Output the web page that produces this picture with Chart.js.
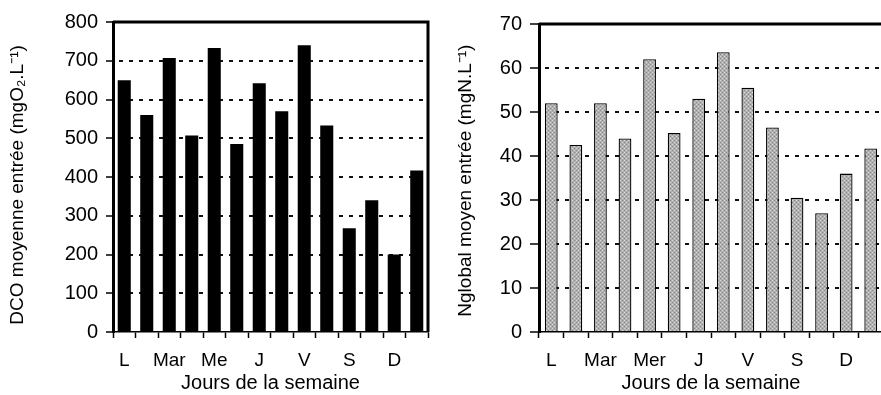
<!DOCTYPE html>
<html><head><meta charset="utf-8">
<script src="https://cdn.jsdelivr.net/npm/chart.js@4.4.1/dist/chart.umd.min.js"></script>
<style>
html,body{margin:0;padding:0;background:#fff;overflow:hidden;width:881px;height:395px;position:relative;}
#w1{position:absolute;left:0;top:0;width:440px;height:395px;}
#w2{position:absolute;left:440px;top:0;width:460px;height:395px;}
</style></head><body>
<div id="w1"><canvas id="c1"></canvas></div>
<div id="w2"><canvas id="c2"></canvas></div>
<script>
// ---- data ----
const categoriesLeft  = ['L','','Mar','','Me','','J','','V','','S','','D',''];
const categoriesRight = ['L','','Mar','','Mer','','J','','V','','S','','D',''];
const dcoValues = [650, 560, 707, 507, 733, 485, 642, 570, 740, 533, 268, 340, 200, 417];
const nglobalValues = [52, 42.5, 52, 44, 62, 45.2, 53, 63.6, 55.5, 46.5, 30.5, 27, 36, 41.7];
const dcoAxis = {min: 0, max: 800, step: 100};
const nglobalAxis = {min: 0, max: 70, step: 10};
const xTitle = 'Jours de la semaine';
const dcoTitle = 'DCO moyenne entrée (mgO\u2082.L\u207B\u00B9)\u00A0\u00A0\u00A0';
const nglobalTitle = 'Nglobal moyen entrée (mgN.L\u207B\u00B9)\u00A0';

const FONT = 'Liberation Sans, Arial, Helvetica, sans-serif';

// gray textured fill for right chart
function makePattern() {
  const c = document.createElement('canvas');
  c.width = 4; c.height = 4;
  const g = c.getContext('2d');
  g.fillStyle = '#b0b0b0'; g.fillRect(0, 0, 4, 4);
  g.fillStyle = '#d8d8d8'; g.fillRect(0, 0, 1, 1); g.fillRect(2, 2, 1, 1);
  g.fillStyle = '#8a8a8a'; g.fillRect(2, 0, 1, 1); g.fillRect(0, 2, 1, 1);
  return g.createPattern(c, 'repeat');
}

const framePlugin = {
  id: 'frame',
  afterDraw(chart) {
    const {ctx, chartArea: a} = chart;
    ctx.save();
    ctx.strokeStyle = '#000';
    ctx.lineWidth = 3;
    ctx.beginPath();
    ctx.moveTo(a.left, a.top);
    ctx.lineTo(a.right, a.top);
    ctx.lineTo(a.right, a.bottom);
    ctx.stroke();
    ctx.restore();
  }
};

function build(id, labels, values, axis, yTitle, fill, border, barPct, geo) {
  return new Chart(document.getElementById(id), {
    type: 'bar',
    data: {
      labels: labels,
      datasets: [{
        data: values,
        backgroundColor: fill,
        borderColor: border,
        borderWidth: border ? 1.3 : 0,
        borderSkipped: 'bottom',
        barPercentage: barPct,
        categoryPercentage: 1
      }]
    },
    options: {
      responsive: true,
      maintainAspectRatio: false,
      animation: false,
      events: [],
      layout: {padding: {left: 0, top: geo.top, right: geo.right, bottom: 0}},
      plugins: {legend: {display: false}, tooltip: {enabled: false}},
      scales: {
        x: {
          offset: true,
          grid: {offset: true, drawOnChartArea: false, drawTicks: true, tickLength: 6, tickWidth: 1.5, tickColor: '#000', color: '#000'},
          border: {display: true, color: '#000', width: 1.5},
          ticks: {color: '#000', font: {family: FONT, size: 19}, padding: 11, autoSkip: false, maxRotation: 0, minRotation: 0},
          title: {display: true, text: xTitle, color: '#000', font: {family: FONT, size: 20}, padding: {top: 0, bottom: 0}},
          afterFit(s) { s.height = 395 - geo.bottom; }
        },
        y: {
          min: axis.min, max: axis.max,
          ticks: {stepSize: axis.step, color: '#000', font: {family: FONT, size: 20}, padding: geo.tickPad},
          grid: {
            drawOnChartArea: true,
            lineWidth: 2,
            color: (c) => (c.tick && (c.tick.value === axis.min || c.tick.value === axis.max)) ? 'rgba(0,0,0,0)' : '#111',
            tickLength: geo.tickLen, tickWidth: 1.5, tickColor: '#000'
          },
          border: {display: true, color: '#000', width: 3, dash: [4, 6], dashOffset: -4},
          title: {display: true, text: yTitle, color: '#000', font: {family: FONT, size: 19}, padding: {top: geo.titlePad, bottom: 0}},
          afterFit(s) { s.width = geo.left; }
        }
      }
    },
    plugins: [framePlugin]
  });
}

build('c1', categoriesLeft, dcoValues, dcoAxis, dcoTitle, '#000', null, 0.58,
  {top: 22, right: 12, bottom: 332, left: 113, tickPad: 8, tickLen: 7, titlePad: 6});
build('c2', categoriesRight, nglobalValues, nglobalAxis, nglobalTitle, makePattern(), '#000', 0.52,
  {top: 24, right: 17, bottom: 332, left: 99, tickPad: 8, tickLen: 9, titlePad: 14});
</script>
</body></html>
